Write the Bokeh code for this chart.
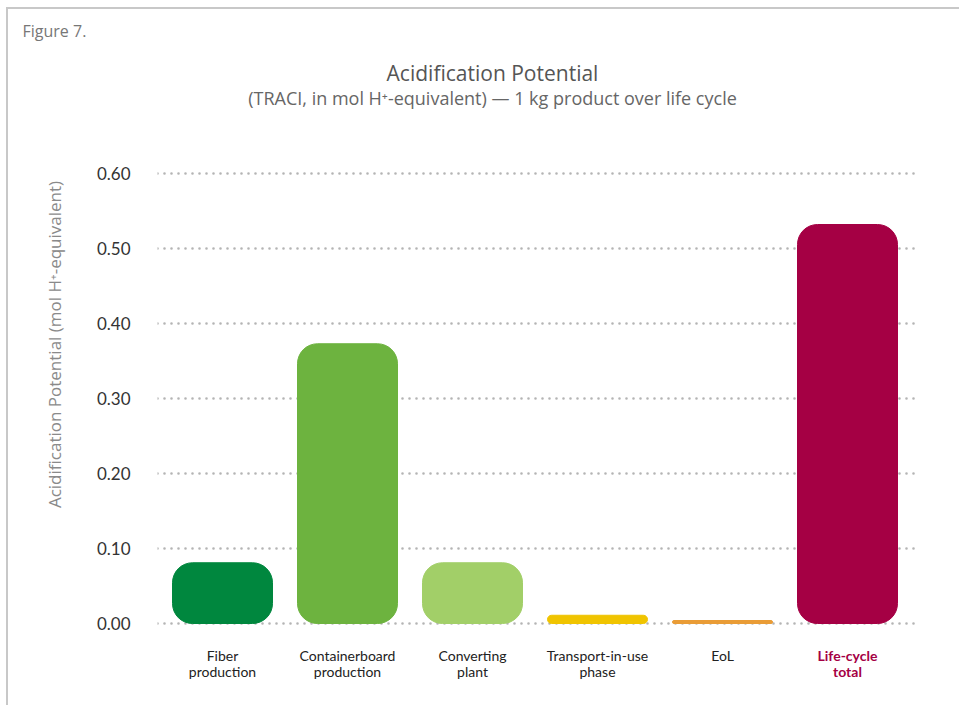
import math
from bokeh.plotting import figure
from bokeh.layouts import row
from bokeh.core.properties import value
from bokeh.models import Range1d, FixedTicker, NumeralTickFormatter, Label, ColumnDataSource
from bokeh.embed import file_html
from bokeh.resources import INLINE

# ---- data ----
categories = ["Fiber\nproduction", "Containerboard\nproduction", "Converting\nplant",
              "Transport-in-use\nphase", "EoL", "Life-cycle\ntotal"]
values = [0.081, 0.373, 0.081, 0.011, 0.004, 0.532]
colors = ["#00873e", "#6db33f", "#a2cf68", "#f0c400", "#e99c36", "#a50044"]
label_colors = ["#222222", "#222222", "#222222", "#222222", "#222222", "#a50044"]
label_styles = ["normal", "normal", "normal", "normal", "normal", "bold"]
y_ticks = [0.0, 0.1, 0.2, 0.3, 0.4, 0.5, 0.6]

FONT = "Lato"
TFONT = "Open Sans"
H = 696
xs = list(range(len(categories)))

# ---- left strip: figure caption and y-axis title ----
left = figure(width=80, height=H, output_backend="svg", toolbar_location=None,
              x_range=Range1d(0, 80), y_range=Range1d(0, H),
              x_axis_location=None, y_axis_location=None,
              min_border_left=0, min_border_right=0, min_border_top=0, min_border_bottom=0,
              outline_line_color=None)
left.grid.visible = False
left.add_layout(Label(x=14, y=H - 21, x_units="screen", y_units="screen",
                      text="Figure 7.", text_align="left", text_baseline="middle",
                      text_font=TFONT, text_font_size="16px", text_color="#777777"))
left.add_layout(Label(x=46, y=H - 335, x_units="screen", y_units="screen",
                      text="Acidification Potential (mol H\u207a-equivalent)", angle=math.pi / 2,
                      text_align="center", text_baseline="middle",
                      text_font=TFONT, text_font_size="17px", text_color="#8a8a8a"))

# ---- main chart ----
PX_PER_UNIT = 750.0
ZERO_FROM_TOP = 614
p = figure(frame_width=761, frame_height=H, output_backend="svg", toolbar_location=None,
           x_range=Range1d(-0.52, 5.568),
           y_range=Range1d(-(H - ZERO_FROM_TOP) / PX_PER_UNIT, ZERO_FROM_TOP / PX_PER_UNIT),
           x_axis_location=None,
           min_border_left=69, min_border_right=41, min_border_top=0, min_border_bottom=0,
           outline_line_color=None)

src = ColumnDataSource(dict(x=xs, top=values, color=colors, label=categories,
                            lcolor=label_colors, lstyle=label_styles, y0=[0] * len(xs)))
p.vbar(x="x", top="top", bottom=0, width=0.8, color="color", source=src,
       border_radius=20)

# category labels under the bars
p.text(x="x", y="y0", text="label", source=src, y_offset=23,
       text_align="center", text_baseline="top", text_font=value(FONT),
       text_font_size=value("14px"), text_color="lcolor", text_font_style="lstyle",
       text_line_height=0.95)

# grid
p.xgrid.visible = False
p.ygrid.ticker = FixedTicker(ticks=y_ticks)
p.ygrid.grid_line_color = "#b4b4b4"
p.ygrid.grid_line_width = 2.6
p.ygrid.grid_line_dash = "0 7"
p.ygrid.grid_line_cap = "round"

# y axis
p.yaxis.ticker = FixedTicker(ticks=y_ticks)
p.yaxis.formatter = NumeralTickFormatter(format="0.00")
p.yaxis.axis_line_color = None
p.yaxis.major_tick_line_color = None
p.yaxis.minor_tick_line_color = None
p.yaxis.major_tick_out = 0
p.yaxis.major_label_standoff = 27
p.yaxis.major_label_text_font = FONT
p.yaxis.major_label_text_font_size = "17px"
p.yaxis.major_label_text_color = "#333333"

# titles
p.add_layout(Label(x=335, y=H - 63, x_units="screen", y_units="screen",
                   text="Acidification Potential", text_align="center", text_baseline="middle",
                   text_font=TFONT, text_font_size="21px", text_color="#555555"))
p.add_layout(Label(x=335, y=H - 88, x_units="screen", y_units="screen",
                   text="(TRACI, in mol H\u207a-equivalent) \u2014 1 kg product over life cycle",
                   text_align="center", text_baseline="middle",
                   text_font=TFONT, text_font_size="18px", text_color="#666666"))

layout = row(left, p, styles={"border-top": "2px solid #c8c8c8", "border-left": "2px solid #c8c8c8",
                              "margin-top": "7px", "margin-left": "6px"})

open("out.html", "w").write(file_html(layout, INLINE))
